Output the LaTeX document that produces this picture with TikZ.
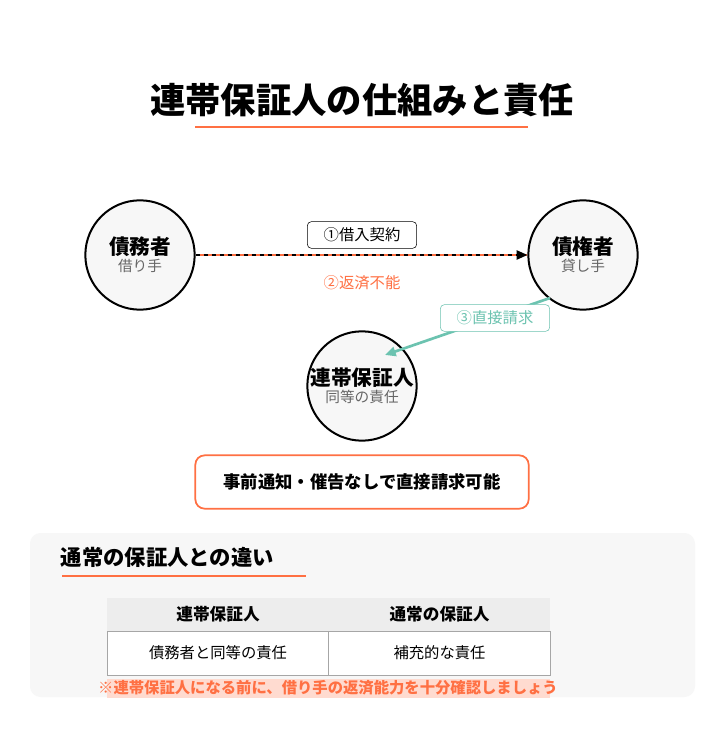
\documentclass[tikz,border=0pt]{standalone}
\usepackage{fontspec}
\setmainfont{Noto Sans CJK JP}
\usetikzlibrary{arrows.meta}
\definecolor{org}{HTML}{FF7043}
\definecolor{teal1}{HTML}{6CC3B0}
\definecolor{bg}{HTML}{F7F7F7}
\tikzset{
  circ/.style={circle,draw=black,line width=1.5pt,fill=bg,minimum size=82pt,align=center,inner sep=0pt},
  lab/.style={draw,rounded corners=3pt,fill=white,minimum width=82pt,minimum height=20pt,font=\fontsize{11.5}{13}\selectfont},
  cell/.style={draw=gray!70,line width=0.6pt,minimum width=166pt,minimum height=33pt,font=\fontsize{11.5}{13}\selectfont},
  hcell/.style={fill=black!7,minimum width=166pt,minimum height=25pt,font=\bfseries\fontsize{12.5}{14}\selectfont}
}
\newcommand{\circtext}[2]{\bfseries\fontsize{15.5}{18}\selectfont #1\\[1pt]\textcolor{black!60}{\mdseries\fontsize{11}{13}\selectfont #2}}
\begin{document}
\begin{tikzpicture}[x=0.75pt,y=-0.75pt]
\useasboundingbox[fill=white] (0,0) rectangle (723,752);
\node (title) at (362,100) {\bfseries\fontsize{26.5}{30}\selectfont 連帯保証人の仕組みと責任};
\draw[org,line width=2.2pt] (195,127) -- (528,127);
\node[circ] (d) at (140,255) {\circtext{債務者}{借り手}};
\node[circ] (c) at (583,255) {\circtext{債権者}{貸し手}};
\node[circ] (g) at (362,386) {\circtext{連帯保証人}{同等の責任}};
\draw[org,line width=2pt] (d.east) -- (c.west);
\draw[black,line width=1pt,dashed,-{Triangle[length=8pt,width=7pt]}] (d.east) -- (c.west);
\node[lab] (l1) at (362,235) {①借入契約};
\node[text=org,font=\fontsize{11.5}{13}\selectfont] (l2) at (362,283) {②返済不能};
\coordinate (cs) at (550,298);
\draw[teal1,line width=2pt,-{Triangle[length=8pt,width=7pt]}] (cs) -- (385,355);
\node[lab,draw=teal1,text=teal1] (l3) at (495,318) {③直接請求};
\node[draw=org,line width=1.3pt,rounded corners=7pt,fill=white,minimum width=250pt,minimum height=40pt,font=\bfseries\fontsize{13}{15}\selectfont] (note) at (362,482) {事前通知・催告なしで直接請求可能};
\fill[bg,rounded corners=8pt] (30,533) rectangle (695,697);
\node[anchor=west,font=\bfseries\fontsize{16}{18}\selectfont] (h) at (56,557) {通常の保証人との違い};
\draw[org,line width=1.5pt] (62,576) -- (306,576);
\fill[org!25] (107,679) rectangle (550,698);
\node[hcell] (h1) at (218,614.5) {連帯保証人};
\node[hcell] (h2) at (439.5,614.5) {通常の保証人};
\node[cell,fill=white] (r1) at (218,653) {債務者と同等の責任};
\node[cell,fill=white] (r2) at (439.5,653) {補充的な責任};
\node[text=org,font=\bfseries\fontsize{11.5}{13}\selectfont] (warn) at (328,688) {※連帯保証人になる前に、借り手の返済能力を十分確認しましょう};
\end{tikzpicture}
\end{document}
